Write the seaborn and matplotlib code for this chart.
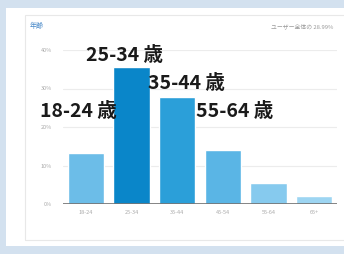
import matplotlib
matplotlib.use("Agg")
import matplotlib.pyplot as plt
from matplotlib.patches import Rectangle
import seaborn as sns
import pandas as pd

# Data
age_groups = ["18-24", "25-34", "35-44", "45-54", "55-64", "65+"]
share_pct = [13.2, 35.6, 27.8, 14.0, 5.5, 2.0]
bar_colors = ["#6cbde8", "#0a86c9", "#2b9fd9", "#5ab5e5", "#86caee", "#9dd5f2"]
y_ticks = [0, 10, 20, 30, 40]
callouts = ["18-24 歳", "25-34 歳", "35-44 歳", "55-64 歳"]

df = pd.DataFrame({"age": age_groups, "share": share_pct})

sns.set_theme(style="white")
plt.rcParams["font.family"] = ["Noto Sans CJK JP", "DejaVu Sans"]

fig = plt.figure(figsize=(3.44, 2.54), dpi=100, facecolor="#d3e1ef")

# white page + card frame (behind the axes)
fig.patches.append(Rectangle((6 / 344, 0.03), 1, 0.94, transform=fig.transFigure,
                             facecolor="white", edgecolor="none", zorder=-10))
fig.patches.append(Rectangle((25 / 344, 1 - 240 / 254), 1, 225 / 254, transform=fig.transFigure,
                             facecolor="none", edgecolor="#e8e8e8", linewidth=0.8, zorder=-9))

ax = fig.add_axes([63 / 344, 1 - 204 / 254, 274 / 344, 154 / 254])
ax.set_facecolor("none")

sns.barplot(data=df, x="age", y="share", hue="age", palette=bar_colors,
            legend=False, width=0.8, saturation=1, ax=ax, zorder=3)

ax.set_ylim(0, 40)
ax.set_xlim(-0.5, 5.5)
ax.set_yticks(y_ticks)
ax.set_yticklabels([f"{t}%" for t in y_ticks], fontsize=4, color="#aaaaaa")
ax.tick_params(axis="x", labelsize=4, colors="#aaaaaa", length=0, pad=4)
ax.tick_params(axis="y", length=0, pad=8)
ax.set_xlabel("")
ax.set_ylabel("")
for t in y_ticks[1:]:
    ax.axhline(t, color="#ececec", linewidth=0.8, zorder=1)
ax.axhline(0, color="#707070", linewidth=1.2, zorder=4)
sns.despine(ax=ax, left=True, bottom=True, top=True, right=True)

# big callout labels
text_pos = [(-1.0, 23.9), (0.0, 38.7), (1.36, 31.2), (2.42, 23.9)]
for label, (x, y) in zip(callouts, text_pos):
    ax.text(x, y, label, fontsize=14, fontweight="bold", color="#1a1a1a",
            ha="left", va="center", zorder=5, clip_on=False)

fig.text(30 / 344, 1 - 26 / 254, "年齢", fontsize=5, color="#4a8ac9", va="center")
fig.text(333 / 344, 1 - 26 / 254, "ユーザー全体の 28.99%", fontsize=4.2,
         color="#999999", va="center", ha="right")

fig.savefig("out.png", dpi=100, facecolor=fig.get_facecolor())
